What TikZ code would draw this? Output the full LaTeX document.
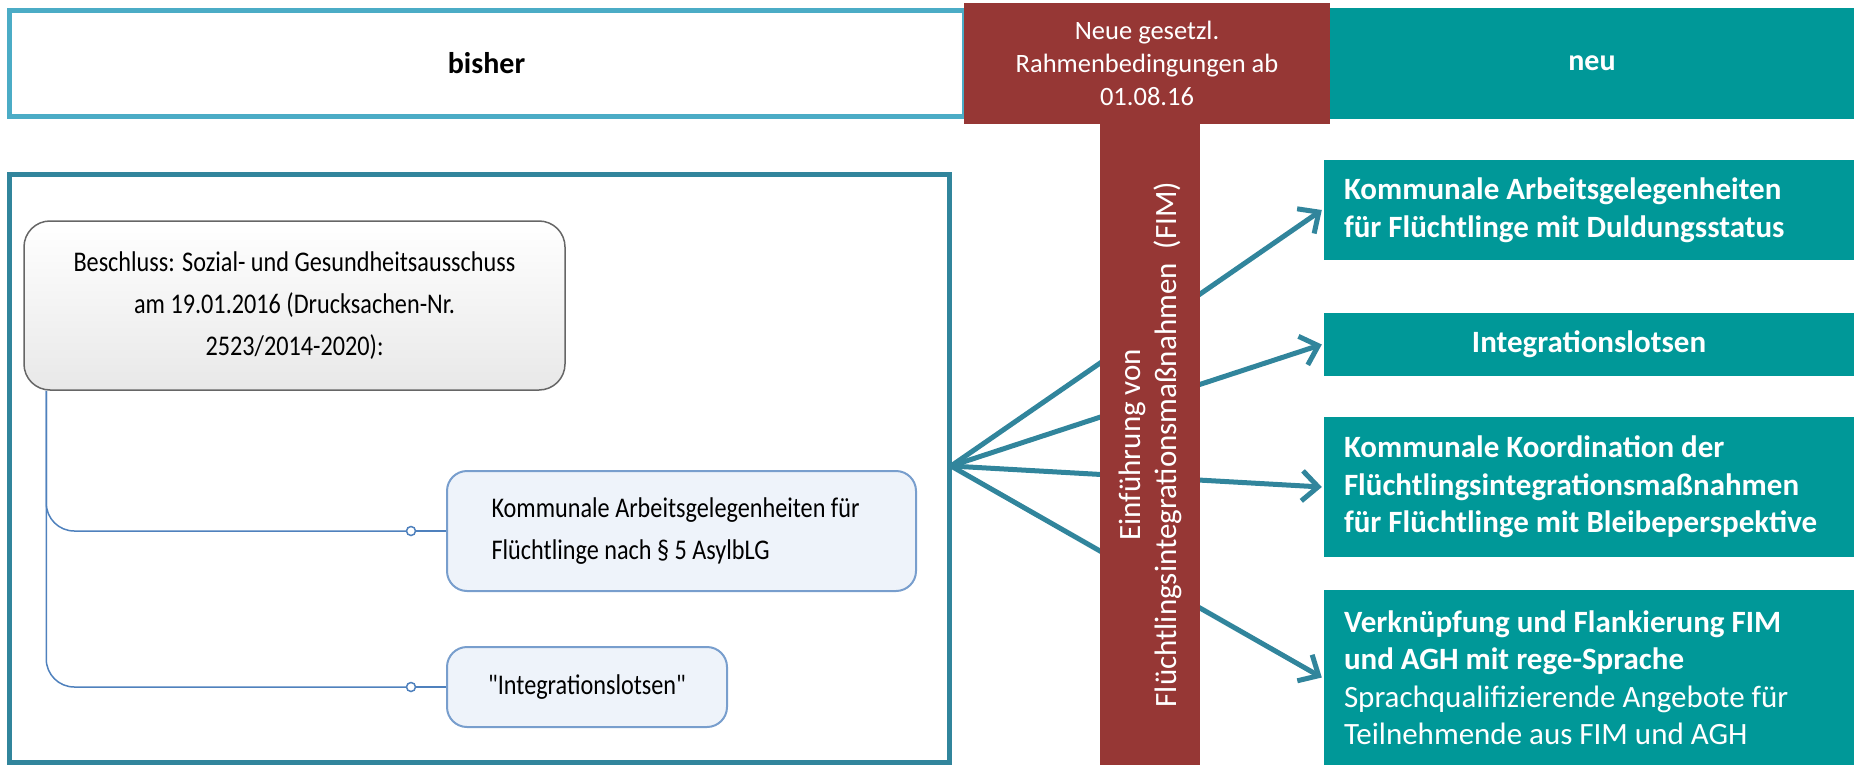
\documentclass[tikz,border=0pt]{standalone}
\usepackage{fontspec}
\setmainfont{Carlito}
\newfontfamily\condfont[FakeStretch=0.85]{Carlito}
\usetikzlibrary{arrows.meta}
\definecolor{tealbox}{RGB}{0,152,152}
\definecolor{redbox}{RGB}{150,55,53}
\definecolor{lightblue}{RGB}{75,172,198}
\definecolor{darkblue}{RGB}{49,133,156}
\definecolor{connblue}{RGB}{79,129,189}
\definecolor{palefill}{RGB}{238,243,250}
\definecolor{paledraw}{RGB}{120,158,205}
\tikzset{
  newbox/.style={fill=tealbox, text=white, inner ysep=0pt, inner xsep=20pt, text width=490pt, align=flush left,
    font=\fontsize{31}{37.5}\selectfont\bfseries},
  oldbox/.style={draw=paledraw, line width=2pt, fill=palefill, rounded corners=20pt, inner sep=0pt,
    font=\condfont\fontsize{28.5}{42}\selectfont},
  fanarrow/.style={draw=darkblue, line width=5pt, -{Straight Barb[length=16pt,width=30pt]}},
  treeline/.style={draw=connblue, line width=1.5pt},
  knob/.style={circle, draw=connblue, line width=1.5pt, fill=white, inner sep=0pt, minimum size=9pt},
}
\begin{document}
\begin{tikzpicture}[x=1pt,y=-1pt]
\useasboundingbox (0,0) rectangle (1854,765);

% header row
\node[draw=lightblue, line width=5pt, fill=white, minimum width=955pt, minimum height=106pt, inner sep=0pt,
  font=\fontsize{30}{36}\selectfont\bfseries] (bisher) at (486.5,63.5) {bisher};
\node[fill=tealbox, text=white, minimum width=524pt, minimum height=111pt, inner sep=0pt,
  font=\fontsize{30}{36}\selectfont\bfseries] (neu) at (1592,63.5) {neu};

% left frame
\node[draw=darkblue, line width=5pt, minimum width=940pt, minimum height=588pt, inner sep=0pt] (frame) at (479.5,468.5) {};

% Beschluss box
\node[draw=black!60, line width=1.5pt, top color=white, bottom color=black!9, rounded corners=26pt,
  minimum width=541pt, minimum height=169pt, inner sep=0pt, align=center,
  font=\condfont\fontsize{28.5}{42}\selectfont] (besch) at (294.5,305.5)
  {Beschluss: Sozial- und Gesundheitsausschuss\\am 19.01.2016 (Drucksachen-Nr.\\2523/2014-2020):};

\node[oldbox, minimum width=469pt, minimum height=120pt, text width=400pt, align=flush left] (kag) at (681.5,531)
  {\hspace*{10pt}Kommunale Arbeitsgelegenheiten für\\\hspace*{10pt}Flüchtlinge nach § 5 AsylbLG};
\node[oldbox, minimum width=280pt, minimum height=80pt, align=center] (ilold) at (587,687) {"Integrationslotsen"};

\node[knob] (k1) at (411,531) {};
\node[knob] (k2) at (411,687) {};
\coordinate (stem) at ([xshift=23pt]besch.south west);
\draw[treeline, rounded corners=28pt] (stem) |- (k1.west);
\draw[treeline, rounded corners=28pt] (stem) |- (k2.west);
\draw[treeline, line width=2.5pt] (k1.east) -- (kag.west);
\draw[treeline, line width=2.5pt] (k2.east) -- (ilold.west);

% right boxes
\node[newbox, minimum height=100pt] (n1) at (1589,210)
  {Kommunale Arbeitsgelegenheiten\\für Flüchtlinge mit Duldungsstatus};
\node[newbox, minimum height=63pt, align=center] (n2) at (1589,344.5) {Integrationslotsen};
\node[newbox, minimum height=140pt] (n3) at (1589,487)
  {Kommunale Koordination der\\Flüchtlingsintegrationsmaßnahmen\\für Flüchtlinge mit Bleibeperspektive};
\node[newbox, minimum height=175pt] (n4) at (1589,677.5)
  {Verknüpfung und Flankierung FIM\\und AGH mit rege-Sprache\\\mdseries Sprachqualifizierende Angebote für\\Teilnehmende aus FIM und AGH};

% fan of arrows
\coordinate (fan) at (951,466);
\draw[fanarrow] (fan) -- ([xshift=-2pt]n1.west);
\draw[fanarrow] (fan) -- ([xshift=-2pt]n2.west);
\draw[fanarrow] (fan) -- ([xshift=-2pt]n3.west);
\draw[fanarrow] (fan) -- ([xshift=-2pt]n4.west);

% red T
\node[fill=redbox, minimum width=100pt, minimum height=641pt, inner sep=0pt] (bar) at (1150,444.5) {};
\node[fill=redbox, text=white, minimum width=366pt, minimum height=121pt, inner sep=0pt, align=center,
  font=\fontsize{26.5}{33}\selectfont] (rule) at (1147,63.5)
  {Neue gesetzl.\\Rahmenbedingungen ab\\01.08.16};
\node[rotate=90, text=white, align=center, inner sep=0pt, font=\fontsize{31}{36}\selectfont] (fim) at (bar.center)
  {Einführung von\\Flüchtlingsintegrationsmaßnahmen~~(FIM)};
\end{tikzpicture}
\end{document}
